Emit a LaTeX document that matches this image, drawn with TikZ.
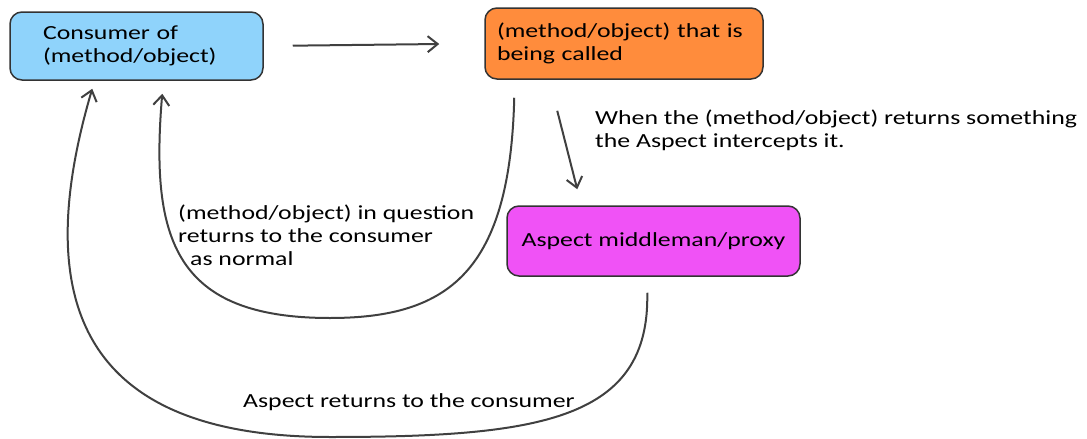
\documentclass[tikz,border=0pt]{standalone}
\usepackage{fontspec}
\setmainfont[FakeStretch=1.29]{Carlito}
\usetikzlibrary{arrows.meta,calc}
\definecolor{consumerblue}{HTML}{8FD3FB}
\definecolor{calledorange}{HTML}{FF8C3C}
\definecolor{aspectpink}{HTML}{F052F6}

\begin{document}
\begin{tikzpicture}[x=1pt,y=-1pt,
    box/.style={draw={rgb:black,4;white,1}, line width=1.5pt, rounded corners=12pt,
        font=\fontsize{20}{23}\selectfont, inner sep=0pt},
    flow/.style={draw={rgb:black,3;white,1}, line width=2pt,
        -{Straight Barb[length=10pt,width=16pt]}},
    note/.style={font=\fontsize{20}{23}\selectfont, align=left, inner sep=0pt, anchor=west}]

        \useasboundingbox (0,0) rectangle (1087,439);

        \node[box, fill=consumerblue, minimum width=253pt, minimum height=68pt,
            text width=187pt, align=left] (consumer) at (136.5,46) {Consumer of\\(method/object)};
        \node[box, fill=calledorange, minimum width=278pt, minimum height=71pt,
            text width=254pt, align=left] (called) at (624,43.5) {(method/object) that is\\being called};
        \node[box, fill=aspectpink, minimum width=293pt, minimum height=70pt,
            align=center] (aspect) at (653.5,241) {Aspect middleman/proxy};

        \draw[flow, shorten <=29pt, shorten >=45pt] (consumer.east) -- (called.west);
        \draw[flow] ($(called.south west)+(73,31)$) -- ($(aspect.north west)+(71,-16)$);

        % normal return
        \draw[flow] ($(called.south west)+(30,18)$) .. controls (510,270) and (450,318) .. (330,318)
            .. controls (175,318) and (150,240) .. ($(consumer.south west)+(153,13)$);
        % return through the aspect
        \draw[flow] ($(aspect.south west)+(141,16)$) .. controls (650,420) and (540,437) .. (330,437)
            .. controls (80,437) and (30,300) .. ($(consumer.south west)+(83,8)$);

        \node[note] (intercept) at (595,130) {When the (method/object) returns something\\the Aspect intercepts it.};
        \node[note] (normal) at (178,235) {(method/object) in question\\returns to the consumer\\\hspace*{0.6em}as normal};
        \node[note] (aspectret) at (243,402) {Aspect returns to the consumer};

\end{tikzpicture}
\end{document}
